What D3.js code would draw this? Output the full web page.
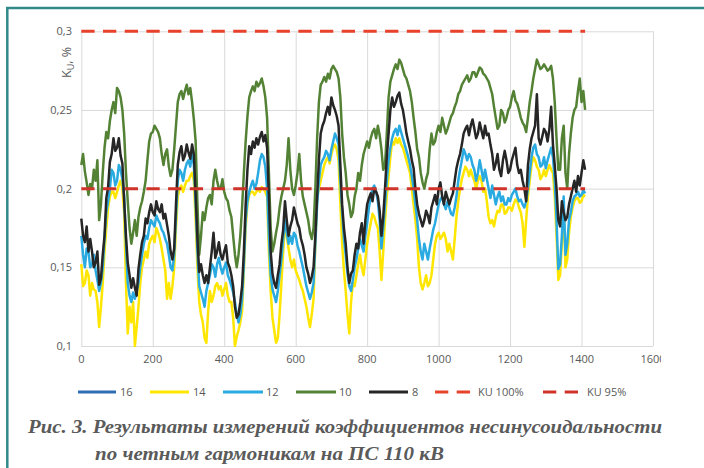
<!DOCTYPE html>
<html>
<head>
<meta charset="utf-8">
<script src="https://cdn.jsdelivr.net/npm/d3@7"></script>
<style>
  body { margin: 0; background: #fff; }
  svg { display: block; }
</style>
</head>
<body>
<svg id="chart" width="704" height="468"></svg>
<script>
// Measurement samples (every 5th record, 0 … 1410)
const sampleIndex = d3.range(0, 1411, 5);

// Harmonic 8
const h8 = [
  0.181, 0.170, 0.166, 0.176, 0.160, 0.168, 0.160, 0.150, 0.153, 0.160, 0.139, 0.143, 0.158, 0.170, 0.194, 0.201, 0.217, 0.222, 0.232, 0.224,
  0.226, 0.232, 0.221, 0.216, 0.192, 0.170, 0.153, 0.145, 0.137, 0.143, 0.137, 0.132, 0.149, 0.158, 0.166, 0.170, 0.181, 0.178, 0.185, 0.190,
  0.185, 0.183, 0.192, 0.187, 0.185, 0.190, 0.181, 0.184, 0.177, 0.170, 0.160, 0.155, 0.162, 0.190, 0.215, 0.223, 0.227, 0.218, 0.221, 0.228,
  0.223, 0.219, 0.228, 0.222, 0.196, 0.168, 0.147, 0.152, 0.145, 0.140, 0.145, 0.140, 0.150, 0.160, 0.172, 0.156, 0.160, 0.166, 0.158, 0.155,
  0.160, 0.164, 0.153, 0.150, 0.145, 0.138, 0.125, 0.118, 0.120, 0.128, 0.138, 0.160, 0.190, 0.212, 0.227, 0.222, 0.230, 0.226, 0.232, 0.228,
  0.233, 0.236, 0.230, 0.234, 0.226, 0.195, 0.160, 0.146, 0.140, 0.137, 0.145, 0.152, 0.165, 0.174, 0.192, 0.180, 0.170, 0.176, 0.180, 0.188,
  0.183, 0.178, 0.175, 0.168, 0.164, 0.158, 0.150, 0.146, 0.140, 0.144, 0.150, 0.170, 0.195, 0.218, 0.235, 0.240, 0.243, 0.248, 0.252, 0.247,
  0.258, 0.253, 0.250, 0.246, 0.240, 0.215, 0.190, 0.175, 0.165, 0.150, 0.140, 0.146, 0.148, 0.158, 0.165, 0.162, 0.172, 0.178, 0.165, 0.180,
  0.190, 0.194, 0.197, 0.192, 0.200, 0.198, 0.195, 0.186, 0.170, 0.182, 0.200, 0.220, 0.235, 0.250, 0.258, 0.252, 0.255, 0.259, 0.261, 0.254,
  0.250, 0.243, 0.235, 0.230, 0.225, 0.218, 0.213, 0.200, 0.190, 0.184, 0.180, 0.176, 0.180, 0.186, 0.183, 0.178, 0.188, 0.192, 0.196, 0.190,
  0.200, 0.204, 0.195, 0.190, 0.198, 0.194, 0.190, 0.194, 0.197, 0.205, 0.213, 0.218, 0.222, 0.228, 0.235, 0.238, 0.240, 0.234, 0.240, 0.244,
  0.238, 0.232, 0.235, 0.242, 0.237, 0.232, 0.240, 0.234, 0.235, 0.228, 0.222, 0.212, 0.216, 0.222, 0.212, 0.208, 0.218, 0.224, 0.218, 0.210,
  0.212, 0.218, 0.222, 0.226, 0.215, 0.210, 0.212, 0.205, 0.200, 0.192, 0.215, 0.225, 0.232, 0.236, 0.240, 0.260, 0.232, 0.228, 0.233, 0.238,
  0.236, 0.230, 0.238, 0.252, 0.228, 0.215, 0.200, 0.180, 0.176, 0.192, 0.185, 0.180, 0.182, 0.190, 0.195, 0.200, 0.205, 0.198, 0.208, 0.202,
  0.210, 0.218, 0.212
];

// Harmonic 10
const h10 = [
  0.215, 0.222, 0.211, 0.204, 0.196, 0.203, 0.200, 0.212, 0.205, 0.218, 0.180, 0.190, 0.210, 0.226, 0.236, 0.232, 0.243, 0.250, 0.255, 0.248,
  0.264, 0.262, 0.258, 0.250, 0.235, 0.210, 0.192, 0.175, 0.165, 0.172, 0.180, 0.170, 0.182, 0.188, 0.192, 0.198, 0.205, 0.218, 0.230, 0.235,
  0.236, 0.240, 0.238, 0.236, 0.232, 0.222, 0.215, 0.222, 0.225, 0.214, 0.208, 0.212, 0.225, 0.240, 0.255, 0.260, 0.262, 0.257, 0.262, 0.266,
  0.260, 0.264, 0.255, 0.244, 0.230, 0.190, 0.158, 0.170, 0.185, 0.180, 0.188, 0.194, 0.196, 0.190, 0.205, 0.212, 0.205, 0.200, 0.200, 0.206,
  0.198, 0.194, 0.192, 0.186, 0.182, 0.170, 0.158, 0.150, 0.158, 0.170, 0.188, 0.210, 0.230, 0.246, 0.258, 0.262, 0.265, 0.262, 0.268, 0.265,
  0.267, 0.270, 0.265, 0.258, 0.245, 0.210, 0.175, 0.160, 0.165, 0.172, 0.178, 0.188, 0.195, 0.200, 0.205, 0.215, 0.232, 0.212, 0.200, 0.196,
  0.202, 0.210, 0.222, 0.205, 0.195, 0.190, 0.185, 0.180, 0.172, 0.168, 0.175, 0.200, 0.232, 0.255, 0.266, 0.268, 0.271, 0.268, 0.273, 0.270,
  0.276, 0.278, 0.276, 0.274, 0.270, 0.258, 0.235, 0.220, 0.210, 0.196, 0.190, 0.182, 0.185, 0.195, 0.200, 0.210, 0.205, 0.215, 0.222, 0.226,
  0.230, 0.226, 0.232, 0.236, 0.238, 0.232, 0.240, 0.234, 0.225, 0.212, 0.215, 0.235, 0.258, 0.268, 0.272, 0.276, 0.279, 0.276, 0.282, 0.280,
  0.276, 0.272, 0.270, 0.266, 0.262, 0.255, 0.245, 0.236, 0.225, 0.220, 0.210, 0.204, 0.200, 0.206, 0.210, 0.225, 0.235, 0.228, 0.230, 0.236,
  0.240, 0.236, 0.245, 0.240, 0.235, 0.238, 0.242, 0.246, 0.248, 0.252, 0.255, 0.260, 0.262, 0.266, 0.268, 0.270, 0.272, 0.268, 0.270, 0.274,
  0.274, 0.271, 0.274, 0.277, 0.276, 0.273, 0.272, 0.270, 0.268, 0.264, 0.260, 0.252, 0.245, 0.238, 0.240, 0.250, 0.248, 0.242, 0.245, 0.250,
  0.252, 0.258, 0.262, 0.256, 0.254, 0.250, 0.245, 0.242, 0.240, 0.236, 0.245, 0.255, 0.262, 0.270, 0.276, 0.282, 0.279, 0.276, 0.277, 0.279,
  0.277, 0.275, 0.276, 0.278, 0.270, 0.255, 0.232, 0.212, 0.212, 0.232, 0.240, 0.210, 0.200, 0.222, 0.235, 0.245, 0.250, 0.252, 0.262, 0.270,
  0.255, 0.262, 0.250
];

// Harmonic 12
const h12 = [
  0.170, 0.158, 0.150, 0.162, 0.160, 0.150, 0.152, 0.158, 0.148, 0.142, 0.135, 0.140, 0.150, 0.168, 0.185, 0.192, 0.200, 0.212, 0.210, 0.202,
  0.205, 0.215, 0.212, 0.206, 0.195, 0.165, 0.140, 0.132, 0.128, 0.134, 0.130, 0.135, 0.140, 0.150, 0.158, 0.165, 0.170, 0.168, 0.175, 0.180,
  0.178, 0.176, 0.183, 0.180, 0.178, 0.174, 0.172, 0.168, 0.165, 0.158, 0.150, 0.148, 0.158, 0.182, 0.205, 0.212, 0.210, 0.205, 0.212, 0.216,
  0.218, 0.214, 0.222, 0.215, 0.190, 0.160, 0.138, 0.134, 0.130, 0.125, 0.135, 0.140, 0.145, 0.152, 0.150, 0.144, 0.152, 0.156, 0.150, 0.146,
  0.150, 0.153, 0.145, 0.142, 0.138, 0.134, 0.128, 0.120, 0.115, 0.120, 0.130, 0.152, 0.180, 0.192, 0.198, 0.202, 0.205, 0.200, 0.203, 0.210,
  0.218, 0.222, 0.220, 0.214, 0.200, 0.170, 0.145, 0.136, 0.132, 0.128, 0.135, 0.145, 0.155, 0.168, 0.180, 0.172, 0.165, 0.170, 0.165, 0.172,
  0.170, 0.164, 0.160, 0.155, 0.150, 0.144, 0.138, 0.134, 0.130, 0.134, 0.140, 0.165, 0.190, 0.205, 0.215, 0.218, 0.220, 0.224, 0.222, 0.218,
  0.225, 0.230, 0.235, 0.232, 0.228, 0.205, 0.185, 0.168, 0.158, 0.146, 0.138, 0.135, 0.142, 0.150, 0.155, 0.162, 0.168, 0.164, 0.160, 0.170,
  0.178, 0.188, 0.195, 0.200, 0.202, 0.198, 0.192, 0.180, 0.162, 0.175, 0.190, 0.205, 0.218, 0.226, 0.232, 0.236, 0.238, 0.234, 0.240, 0.236,
  0.232, 0.228, 0.224, 0.220, 0.215, 0.208, 0.200, 0.190, 0.180, 0.168, 0.160, 0.155, 0.165, 0.160, 0.155, 0.162, 0.168, 0.174, 0.178, 0.184,
  0.190, 0.193, 0.195, 0.190, 0.187, 0.192, 0.188, 0.184, 0.183, 0.188, 0.195, 0.205, 0.212, 0.218, 0.225, 0.222, 0.218, 0.222, 0.220, 0.215,
  0.212, 0.205, 0.210, 0.218, 0.212, 0.205, 0.212, 0.206, 0.200, 0.194, 0.202, 0.196, 0.190, 0.195, 0.198, 0.192, 0.195, 0.190, 0.190, 0.194,
  0.192, 0.196, 0.198, 0.200, 0.195, 0.192, 0.193, 0.190, 0.188, 0.192, 0.200, 0.210, 0.220, 0.226, 0.228, 0.222, 0.220, 0.214, 0.215, 0.220,
  0.213, 0.218, 0.222, 0.226, 0.220, 0.205, 0.180, 0.149, 0.152, 0.170, 0.195, 0.158, 0.165, 0.180, 0.185, 0.192, 0.195, 0.196, 0.198, 0.195,
  0.196, 0.199, 0.197
];

// Harmonic 14
const h14 = [
  0.152, 0.138, 0.140, 0.148, 0.145, 0.132, 0.140, 0.136, 0.135, 0.128, 0.112, 0.125, 0.140, 0.160, 0.175, 0.188, 0.195, 0.198, 0.198, 0.194,
  0.198, 0.202, 0.205, 0.200, 0.185, 0.140, 0.108, 0.125, 0.115, 0.128, 0.100, 0.112, 0.125, 0.140, 0.150, 0.155, 0.160, 0.156, 0.165, 0.168,
  0.170, 0.166, 0.175, 0.172, 0.168, 0.162, 0.155, 0.148, 0.130, 0.140, 0.130, 0.138, 0.150, 0.175, 0.195, 0.200, 0.202, 0.198, 0.202, 0.205,
  0.205, 0.208, 0.210, 0.205, 0.180, 0.150, 0.128, 0.120, 0.115, 0.105, 0.102, 0.122, 0.135, 0.128, 0.132, 0.138, 0.140, 0.136, 0.138, 0.132,
  0.136, 0.140, 0.132, 0.128, 0.128, 0.118, 0.100, 0.106, 0.110, 0.115, 0.122, 0.148, 0.175, 0.190, 0.196, 0.198, 0.198, 0.196, 0.198, 0.200,
  0.198, 0.201, 0.200, 0.198, 0.195, 0.160, 0.135, 0.118, 0.110, 0.102, 0.105, 0.120, 0.140, 0.160, 0.178, 0.170, 0.162, 0.155, 0.150, 0.155,
  0.148, 0.145, 0.142, 0.138, 0.135, 0.130, 0.125, 0.118, 0.112, 0.120, 0.130, 0.165, 0.195, 0.200, 0.205, 0.210, 0.215, 0.218, 0.220, 0.216,
  0.222, 0.226, 0.228, 0.225, 0.218, 0.190, 0.165, 0.148, 0.135, 0.120, 0.108, 0.128, 0.140, 0.138, 0.145, 0.152, 0.158, 0.150, 0.145, 0.155,
  0.165, 0.172, 0.178, 0.184, 0.182, 0.178, 0.175, 0.160, 0.142, 0.160, 0.180, 0.195, 0.208, 0.220, 0.230, 0.228, 0.232, 0.229, 0.232, 0.228,
  0.226, 0.222, 0.218, 0.214, 0.210, 0.200, 0.190, 0.180, 0.168, 0.150, 0.140, 0.136, 0.140, 0.145, 0.138, 0.140, 0.145, 0.155, 0.165, 0.170,
  0.172, 0.168, 0.170, 0.172, 0.168, 0.160, 0.165, 0.160, 0.155, 0.168, 0.182, 0.192, 0.200, 0.206, 0.210, 0.214, 0.212, 0.208, 0.212, 0.208,
  0.205, 0.200, 0.205, 0.208, 0.205, 0.198, 0.200, 0.192, 0.182, 0.178, 0.180, 0.176, 0.182, 0.186, 0.185, 0.190, 0.190, 0.184, 0.185, 0.188,
  0.188, 0.186, 0.190, 0.193, 0.192, 0.188, 0.185, 0.178, 0.163, 0.180, 0.195, 0.205, 0.215, 0.220, 0.218, 0.214, 0.212, 0.206, 0.208, 0.212,
  0.208, 0.212, 0.215, 0.212, 0.210, 0.195, 0.170, 0.142, 0.145, 0.165, 0.188, 0.150, 0.155, 0.172, 0.182, 0.188, 0.192, 0.194, 0.194, 0.191,
  0.192, 0.196, 0.195
];

// Harmonic 16 (coarser record, lies below the displayed range)
const sampleIndex16 = d3.range(0, 1411, 50);
const h16 = [
  0.072, 0.068, 0.085, 0.066, 0.074, 0.078, 0.084, 0.064, 0.068, 0.064,
  0.086, 0.070, 0.072, 0.068, 0.090, 0.066, 0.074, 0.078, 0.092, 0.080,
  0.072, 0.078, 0.088, 0.090, 0.086, 0.084, 0.090, 0.072, 0.082
];

// Permissible levels
const ku100 = 0.3;
const ku95 = 0.2;

const xTicks = [0, 200, 400, 600, 800, 1000, 1200, 1400, 1600];
const yTicks = [0.1, 0.15, 0.2, 0.25, 0.3];

const series = [
  { name: "16", x: sampleIndex16, v: h16, color: "#2f6db5" },
  { name: "14", x: sampleIndex, v: h14, color: "#ffe600" },
  { name: "12", x: sampleIndex, v: h12, color: "#29abe2" },
  { name: "10", x: sampleIndex, v: h10, color: "#548235" },
  { name: "8",  x: sampleIndex, v: h8,  color: "#262626" }
];
const limits = [
  { name: "KU 100%", v: ku100, color: "#e8422c" },
  { name: "KU 95%",  v: ku95,  color: "#cf3329" }
];

const svg = d3.select("#chart");
const plotL = 81.3, plotR = 653, plotT = 31.3, plotB = 346;
const x = d3.scaleLinear().domain([0, 1600]).range([plotL, plotR]);
const y = d3.scaleLinear().domain([0.1, 0.3]).range([plotB, plotT]);

const ru = d3.formatLocale({ decimal: ",", thousands: "", grouping: [3], currency: ["", ""] });
const fmtY = ru.format("~g");

const textColor = "#595959";
const tickFont = "'Open Sans', sans-serif";

// frame
svg.append("line").attr("x1", 6).attr("x2", 704).attr("y1", 8).attr("y2", 8)
  .attr("stroke", "#32898c").attr("stroke-width", 2.5);
svg.append("line").attr("x1", 7.3).attr("x2", 7.3).attr("y1", 7).attr("y2", 468)
  .attr("stroke", "#32898c").attr("stroke-width", 2.5);

// grid via axes
const gx = svg.append("g").attr("transform", `translate(0,${plotB})`)
  .call(d3.axisBottom(x).tickValues(xTicks).tickSize(-(plotB - plotT)).tickFormat(""));
gx.select(".domain").remove();
gx.selectAll("line").attr("stroke", "#d9d9d9").attr("stroke-width", 1);

const gy = svg.append("g").attr("transform", `translate(${plotL},0)`)
  .call(d3.axisLeft(y).tickValues(yTicks).tickSize(-(plotR - plotL)).tickFormat(""));
gy.select(".domain").remove();
gy.selectAll("line").attr("stroke", "#d9d9d9").attr("stroke-width", 1);

// tick labels
svg.append("g").selectAll("text").data(yTicks).join("text")
  .attr("x", 72).attr("y", d => y(d)).attr("dy", "0.35em")
  .attr("text-anchor", "end").attr("font-family", tickFont).attr("font-size", 11)
  .attr("fill", textColor).text(d => fmtY(d));

const defs = svg.append("defs");
defs.append("clipPath").attr("id", "xlabClip")
  .append("rect").attr("x", 0).attr("y", 340).attr("width", 661).attr("height", 40);
svg.append("g").attr("clip-path", "url(#xlabClip)")
  .selectAll("text").data(xTicks).join("text")
  .attr("x", d => x(d)).attr("y", 363)
  .attr("text-anchor", "middle").attr("font-family", tickFont).attr("font-size", 11)
  .attr("fill", textColor).text(d => String(d));

// axis title
const yt = svg.append("text")
  .attr("transform", "translate(70.5,62.5) rotate(-90)")
  .attr("text-anchor", "middle").attr("font-family", tickFont).attr("font-size", 12.5)
  .attr("fill", textColor);
yt.append("tspan").text("K");
yt.append("tspan").attr("font-size", 9).attr("dy", 3).text("U");
yt.append("tspan").attr("dy", -3).text(", %");

// data
defs.append("clipPath").attr("id", "plotClip")
  .append("rect").attr("x", plotL - 2).attr("y", plotT - 4)
  .attr("width", plotR - plotL + 4).attr("height", plotB - plotT + 5);

const plot = svg.append("g").attr("clip-path", "url(#plotClip)");
series.forEach(s => {
  const line = d3.line().x((d, i) => x(s.x[i])).y(d => y(d));
  plot.append("path").datum(s.v)
    .attr("fill", "none").attr("stroke", s.color).attr("stroke-width", 2.5)
    .attr("stroke-linejoin", "round").attr("d", line);
});
limits.forEach(l => {
  const line = d3.line().x(d => x(d)).y(() => y(l.v));
  plot.append("path").datum(sampleIndex)
    .attr("fill", "none").attr("stroke", l.color).attr("stroke-width", 3)
    .attr("stroke-dasharray", "13.3 8.4").attr("d", line);
});

// legend
const legendY = 392;
const legendItems = [
  { name: "16", x0: 78, x1: 116, tx: 120, color: "#2f6db5" },
  { name: "14", x0: 150, x1: 189, tx: 193, color: "#ffe600" },
  { name: "12", x0: 223, x1: 263, tx: 266, color: "#29abe2" },
  { name: "10", x0: 296, x1: 336, tx: 339, color: "#548235" },
  { name: "8", x0: 369, x1: 408, tx: 412, color: "#262626" },
  { name: "KU 100%", x0: 435, x1: 474, tx: 478, color: "#e8422c", dash: true },
  { name: "KU 95%", x0: 543, x1: 578, tx: 587, color: "#cf3329", dash: true }
];
const lg = svg.append("g");
legendItems.forEach(it => {
  lg.append("line").attr("x1", it.x0).attr("x2", it.x1).attr("y1", legendY).attr("y2", legendY)
    .attr("stroke", it.color).attr("stroke-width", 3)
    .attr("stroke-dasharray", it.dash ? "13.3 8.4" : null);
  lg.append("text").attr("x", it.tx).attr("y", legendY).attr("dy", "0.35em")
    .attr("font-family", tickFont).attr("font-size", 11).attr("fill", textColor).text(it.name);
});

// caption
const cap = svg.append("g").attr("font-family", "'Liberation Serif', serif")
  .attr("font-style", "italic").attr("font-weight", "bold").attr("font-size", 18).attr("fill", "#5a5a5a");
cap.append("text").attr("x", 28).attr("y", 433)
  .attr("textLength", 634).attr("lengthAdjust", "spacingAndGlyphs")
  .text("Рис. 3. Результаты измерений коэффициентов несинусоидальности");
cap.append("text").attr("x", 95).attr("y", 460)
  .attr("textLength", 349).attr("lengthAdjust", "spacingAndGlyphs")
  .text("по четным гармоникам на ПС 110 кВ");
</script>
</body>
</html>
